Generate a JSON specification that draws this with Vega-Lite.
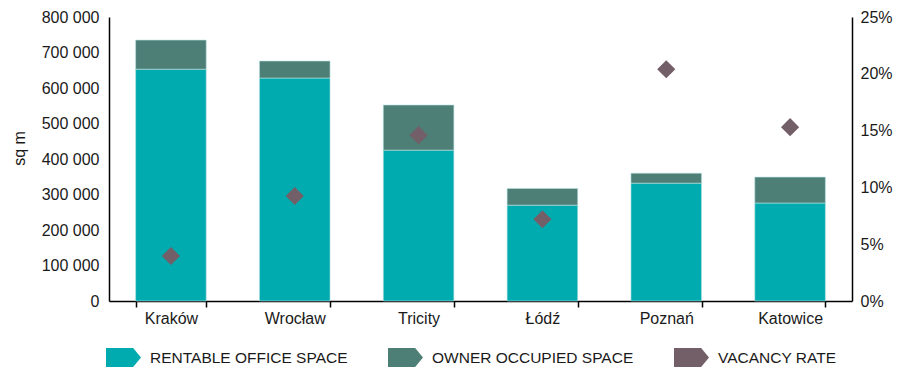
{
  "$schema": "https://vega.github.io/schema/vega-lite/v6.json",
  "width": 743,
  "height": 284,
  "autosize": {"type": "none"},
  "padding": {"left": 109, "top": 17, "right": 63, "bottom": 69},
  "background": "white",
  "config": {
    "locale": {"number": {"decimal": ",", "thousands": " ", "grouping": [3], "currency": ["", ""]}},
    "font": "Liberation Sans",
    "view": {"stroke": null},
    "axis": {"labelFont": "Liberation Sans", "labelFontSize": 16, "labelColor": "#1a1a1a", "domainColor": "#000000", "domainWidth": 1.5, "tickColor": "#000000", "grid": false, "titleFont": "Liberation Sans", "titleFontSize": 16, "titleFontWeight": "normal", "titleColor": "#1a1a1a"}
  },
  "data": {
    "values": [
      {"city": "Kraków", "series": "RENTABLE OFFICE SPACE", "value": 653000},
      {"city": "Kraków", "series": "OWNER OCCUPIED SPACE", "value": 82000},
      {"city": "Kraków", "series": "VACANCY RATE", "value": 0.0396},
      {"city": "Wrocław", "series": "RENTABLE OFFICE SPACE", "value": 628000},
      {"city": "Wrocław", "series": "OWNER OCCUPIED SPACE", "value": 48000},
      {"city": "Wrocław", "series": "VACANCY RATE", "value": 0.0924},
      {"city": "Tricity", "series": "RENTABLE OFFICE SPACE", "value": 425000},
      {"city": "Tricity", "series": "OWNER OCCUPIED SPACE", "value": 127000},
      {"city": "Tricity", "series": "VACANCY RATE", "value": 0.146},
      {"city": "Łódź", "series": "RENTABLE OFFICE SPACE", "value": 270000},
      {"city": "Łódź", "series": "OWNER OCCUPIED SPACE", "value": 47000},
      {"city": "Łódź", "series": "VACANCY RATE", "value": 0.072},
      {"city": "Poznań", "series": "RENTABLE OFFICE SPACE", "value": 332000},
      {"city": "Poznań", "series": "OWNER OCCUPIED SPACE", "value": 28000},
      {"city": "Poznań", "series": "VACANCY RATE", "value": 0.204},
      {"city": "Katowice", "series": "RENTABLE OFFICE SPACE", "value": 276000},
      {"city": "Katowice", "series": "OWNER OCCUPIED SPACE", "value": 73000},
      {"city": "Katowice", "series": "VACANCY RATE", "value": 0.153}
    ]
  },
  "encoding": {
    "x": {
      "field": "city", "type": "nominal",
      "sort": ["Kraków", "Wrocław", "Tricity", "Łódź", "Poznań", "Katowice"],
      "scale": {"paddingInner": 0.43, "paddingOuter": 0.215},
      "axis": {"title": null, "labelAngle": 0, "ticks": true, "tickBand": "extent", "tickSize": 6, "tickWidth": 1.5, "tickColor": "#000000", "tickOpacity": 1, "labelPadding": 3, "domainWidth": 1.5,
        "encode": {"ticks": {"update": {"y2": {"value": -6}}}}}
    },
    "color": {
      "field": "series", "type": "nominal",
      "sort": ["RENTABLE OFFICE SPACE", "OWNER OCCUPIED SPACE", "VACANCY RATE"],
      "scale": {"domain": ["RENTABLE OFFICE SPACE", "OWNER OCCUPIED SPACE", "VACANCY RATE"], "range": ["#00ABB0", "#4D7F77", "#735F67"]},
      "legend": {
        "title": null, "orient": "none", "direction": "horizontal", "legendX": -3, "legendY": 323,
        "symbolType": "M-1,-0.54L0.55,-0.54L1,0L0.55,0.54L-1,0.54Z", "symbolSize": 1225, "symbolStrokeWidth": 0, "symbolOpacity": 1,
        "labelFont": "Liberation Sans", "labelFontSize": 15.5, "labelColor": "#1a1a1a", "labelOffset": 9, "labelLimit": 400, "columnPadding": 40, "padding": 0
      }
    }
  },
  "layer": [
    {
      "transform": [{"filter": "datum.series !== 'VACANCY RATE'"}],
      "mark": {"type": "bar", "stroke": "#b8e0e0", "strokeWidth": 0.6},
      "encoding": {
        "y": {
          "field": "value", "type": "quantitative", "stack": "zero",
          "scale": {"domain": [0, 800000]},
          "axis": {"title": "sq m", "values": [0, 100000, 200000, 300000, 400000, 500000, 600000, 700000, 800000], "format": ",d", "ticks": false, "labelPadding": 10, "titlePadding": 14, "titleY": 131}
        },
        "order": {"field": "series", "sort": "descending"}
      }
    },
    {
      "transform": [{"filter": "datum.series === 'VACANCY RATE'"}],
      "mark": {"type": "point", "shape": "diamond", "filled": true, "size": 330, "opacity": 1},
      "encoding": {
        "y": {
          "field": "value", "type": "quantitative",
          "scale": {"domain": [0, 0.25]},
          "axis": {"orient": "right", "title": null, "values": [0, 0.05, 0.1, 0.15, 0.2, 0.25], "format": ".0%", "ticks": false, "labelPadding": 8}
        }
      }
    }
  ],
  "resolve": {"scale": {"y": "independent"}}
}
